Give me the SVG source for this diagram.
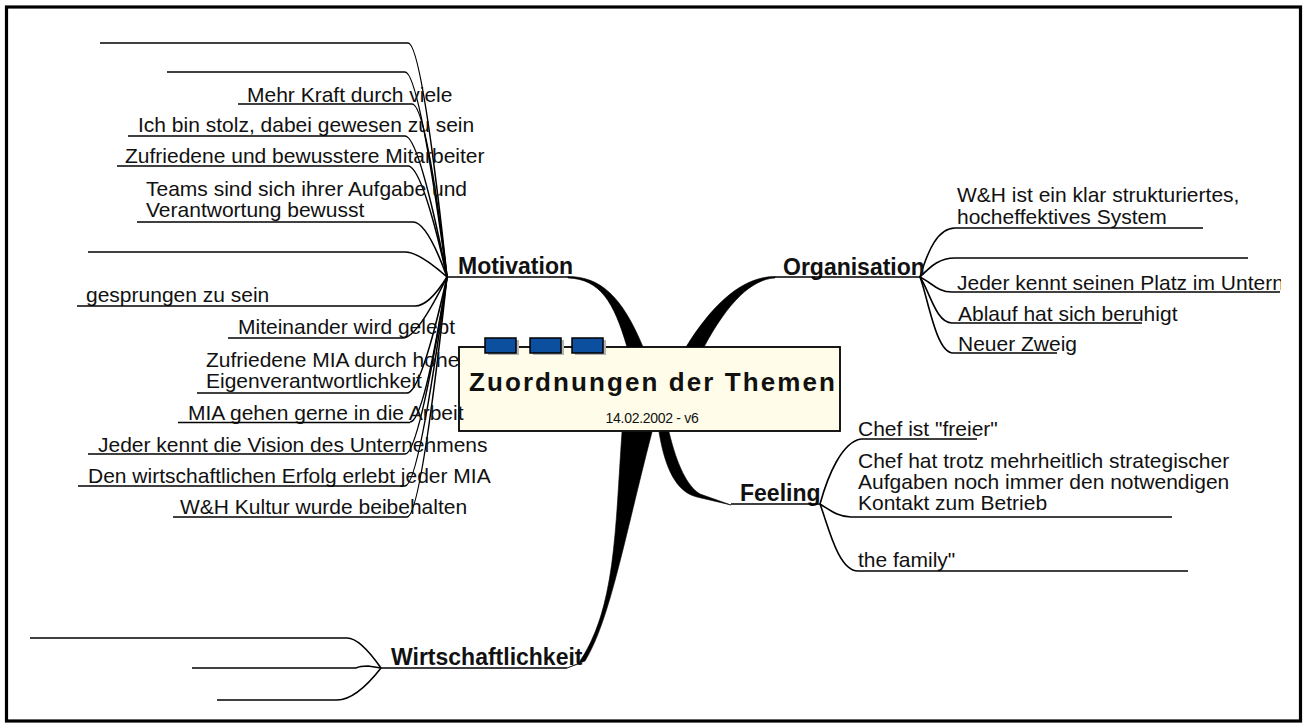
<svg xmlns="http://www.w3.org/2000/svg" width="1307" height="726" viewBox="0 0 1307 726">
  <style>
    .t { font-family: "Liberation Sans", Arial, sans-serif; font-size: 21px; fill: #111; }
    .mt { font-family: "Liberation Sans", Arial, sans-serif; font-size: 23px; font-weight: bold; fill: #111; }
    .ul { stroke: #000; stroke-width: 1.6; fill: none; }
    .cn { stroke: #000; stroke-width: 1.6; fill: none; }
    .br { fill: #000; stroke: #000; stroke-width: 0.6; }
    .blk { fill: #0b4f9e; stroke: #000; stroke-width: 1.5; }
    .shd { fill: #b4b4b4; }
  </style>
  <defs>
    <clipPath id="viewClip">
      <rect x="0" y="0" width="1281" height="726"/>
    </clipPath>
  </defs>

  <rect x="0" y="0" width="1307" height="726" fill="#fff"/>
  <!-- page frame -->
  <rect x="6.5" y="7" width="1294" height="714" fill="none" stroke="#000" stroke-width="3.2"/>

  <!-- connectors: tapered main branches and thin sub-branches -->
  <g id="connectors">
    <!-- main branches -->
    <path class="br" d="M568,276.5 C600,276.5 622,296 643,347 L627,347 C614,302 600,279 568,278 Z"/>
    <path class="br" d="M775,276.5 C745,276.5 715,300 686,347 L704,347 C728,302 752,279 775,278 Z"/>
    <path class="br" d="M659,432 C665,468 676,492 697,497 L731,505 L700,494 C687,486 677,465 669,432 Z"/>
    <path class="br" d="M622,432 C615,530 616,610 578,664 L567,668 L585,661 C610,620 624,540 652,432 Z"/>

    <!-- Motivation sub-branches -->
    <path class="cn" d="M408,43 Q422,43 447,277"/>
    <path class="cn" d="M405,72 Q419,72 447,277"/>
    <path class="cn" d="M412,104 Q426,104 447,277"/>
    <path class="cn" d="M405,136 Q419,136 447,277"/>
    <path class="cn" d="M408,166 Q422,166 447,277"/>
    <path class="cn" d="M413,222 Q427,222 447,277"/>
    <path class="cn" d="M405,252 Q419,252 447,277"/>
    <path class="cn" d="M415,306 Q429,306 447,277"/>
    <path class="cn" d="M403,338 Q417,338 447,277"/>
    <path class="cn" d="M407,393 Q421,393 447,277"/>
    <path class="cn" d="M410,422 Q424,422 447,277"/>
    <path class="cn" d="M405,454 Q419,454 447,277"/>
    <path class="cn" d="M405,486 Q419,486 447,277"/>
    <path class="cn" d="M407,517 Q421,517 447,277"/>

    <!-- Organisation sub-branches -->
    <path class="cn" d="M920,277 C928,250 938,228 955,228"/>
    <path class="cn" d="M920,277 C932,265 940,258 955,258"/>
    <path class="cn" d="M920,277 C932,283 938,292 952,292"/>
    <path class="cn" d="M920,277 C930,292 936,323 952,323"/>
    <path class="cn" d="M920,277 C928,298 936,353 953,353"/>

    <!-- Feeling sub-branches -->
    <path class="cn" d="M820,504 C828,475 842,442 861,439"/>
    <path class="cn" d="M820,504 C830,510 838,517 851,517"/>
    <path class="cn" d="M820,504 C828,525 838,571 858,571"/>

    <!-- Wirtschaftlichkeit sub-branches -->
    <path class="cn" d="M347,638 Q360,638 381,668"/>
    <path class="cn" d="M356,668 Q360,666 368,666 L381,668"/>
    <path class="cn" d="M337,700 Q356,700 381,668"/>
  </g>

  <!-- central topic -->
  <g id="central">
    <rect x="459" y="347" width="381" height="84" fill="#fffde9" stroke="#000" stroke-width="1.8"/>
    <rect x="488" y="340" width="31" height="15" class="shd"/>
    <rect x="485" y="338" width="31" height="15" class="blk"/>
    <rect x="533" y="340" width="31" height="15" class="shd"/>
    <rect x="530" y="338" width="31" height="15" class="blk"/>
    <rect x="575" y="340" width="31" height="15" class="shd"/>
    <rect x="572" y="338" width="31" height="15" class="blk"/>
    <text x="469" y="391" font-family="'Liberation Sans', Arial, sans-serif" font-size="26" font-weight="bold" fill="#111" textLength="366" lengthAdjust="spacing">Zuordnungen der Themen</text>
    <text x="652" y="423" font-family="'Liberation Sans', Arial, sans-serif" font-size="14" fill="#111" text-anchor="middle" letter-spacing="-0.3">14.02.2002 - v6</text>
  </g>

  <!-- main topics -->
  <g id="motivation">
    <text class="mt" x="458" y="274">Motivation</text>
    <line class="ul" x1="447" y1="277" x2="568" y2="277"/>
  </g>
  <g id="organisation">
    <text class="mt" x="783" y="275">Organisation</text>
    <line class="ul" x1="775" y1="277" x2="920" y2="277"/>
  </g>
  <g id="feeling">
    <text class="mt" x="740" y="501">Feeling</text>
    <line class="ul" x1="731" y1="504" x2="820" y2="504"/>
  </g>
  <g id="wirtschaftlichkeit">
    <text class="mt" x="391" y="665">Wirtschaftlichkeit</text>
    <line class="ul" x1="381" y1="668" x2="567" y2="668"/>
  </g>

  <!-- Motivation subtopics -->
  <g id="mot-1"><line class="ul" x1="100" y1="43" x2="408" y2="43"/></g>
  <g id="mot-2"><line class="ul" x1="167" y1="72" x2="405" y2="72"/></g>
  <g id="mot-3">
    <text class="t" x="247" y="101.5">Mehr Kraft durch viele</text>
    <line class="ul" x1="238" y1="104" x2="412" y2="104"/>
  </g>
  <g id="mot-4">
    <text class="t" x="138" y="132">Ich bin stolz, dabei gewesen zu sein</text>
    <line class="ul" x1="128" y1="136" x2="405" y2="136"/>
  </g>
  <g id="mot-5">
    <text class="t" x="125" y="163">Zufriedene und bewusstere Mitarbeiter</text>
    <line class="ul" x1="117" y1="166" x2="408" y2="166"/>
  </g>
  <g id="mot-6">
    <text class="t" x="146" y="195.5">Teams sind sich ihrer Aufgabe und</text>
    <text class="t" x="146" y="216.5">Verantwortung bewusst</text>
    <line class="ul" x1="137" y1="222" x2="413" y2="222"/>
  </g>
  <g id="mot-7"><line class="ul" x1="88" y1="252" x2="405" y2="252"/></g>
  <g id="mot-8">
    <text class="t" x="86" y="302">gesprungen zu sein</text>
    <line class="ul" x1="77" y1="306" x2="415" y2="306"/>
  </g>
  <g id="mot-9">
    <text class="t" x="238" y="334">Miteinander wird gelebt</text>
    <line class="ul" x1="228" y1="338" x2="403" y2="338"/>
  </g>
  <g id="mot-10">
    <text class="t" x="206" y="367">Zufriedene MIA durch hohe</text>
    <text class="t" x="206" y="388">Eigenverantwortlichkeit</text>
    <line class="ul" x1="197" y1="393" x2="407" y2="393"/>
  </g>
  <g id="mot-11">
    <text class="t" x="188" y="420">MIA gehen gerne in die Arbeit</text>
    <line class="ul" x1="178" y1="422.5" x2="410" y2="422.5"/>
  </g>
  <g id="mot-12">
    <text class="t" x="98" y="452">Jeder kennt die Vision des Unternehmens</text>
    <line class="ul" x1="88" y1="454" x2="405" y2="454"/>
  </g>
  <g id="mot-13">
    <text class="t" x="88" y="483">Den wirtschaftlichen Erfolg erlebt jeder MIA</text>
    <line class="ul" x1="78" y1="486" x2="405" y2="486"/>
  </g>
  <g id="mot-14">
    <text class="t" x="180" y="514">W&amp;H Kultur wurde beibehalten</text>
    <line class="ul" x1="173" y1="517" x2="407" y2="517"/>
  </g>

  <!-- Organisation subtopics -->
  <g id="org-1">
    <text class="t" x="957" y="202">W&amp;H ist ein klar strukturiertes,</text>
    <text class="t" x="957" y="224">hocheffektives System</text>
    <line class="ul" x1="955" y1="228" x2="1203" y2="228"/>
  </g>
  <g id="org-2"><line class="ul" x1="955" y1="258" x2="1248" y2="258"/></g>
  <g id="org-3" clip-path="url(#viewClip)">
    <text class="t" x="957" y="290">Jeder kennt seinen Platz im Untern</text>
    <line class="ul" x1="952" y1="292" x2="1280" y2="292"/>
  </g>
  <g id="org-4">
    <text class="t" x="958" y="321">Ablauf hat sich beruhigt</text>
    <line class="ul" x1="952" y1="323" x2="1142" y2="323"/>
  </g>
  <g id="org-5">
    <text class="t" x="958" y="351">Neuer Zweig</text>
    <line class="ul" x1="953" y1="353" x2="1057" y2="353"/>
  </g>

  <!-- Feeling subtopics -->
  <g id="feel-1">
    <text class="t" x="858" y="436">Chef ist "freier"</text>
    <line class="ul" x1="861" y1="439" x2="977" y2="439"/>
  </g>
  <g id="feel-2">
    <text class="t" x="858" y="468">Chef hat trotz mehrheitlich strategischer</text>
    <text class="t" x="858" y="489">Aufgaben noch immer den notwendigen</text>
    <text class="t" x="858" y="510">Kontakt zum Betrieb</text>
    <line class="ul" x1="851" y1="517" x2="1172" y2="517"/>
  </g>
  <g id="feel-3">
    <text class="t" x="858" y="567">the family"</text>
    <line class="ul" x1="858" y1="571" x2="1188" y2="571"/>
  </g>

  <!-- Wirtschaftlichkeit subtopics -->
  <g id="wirt-1"><line class="ul" x1="30" y1="638" x2="347" y2="638"/></g>
  <g id="wirt-2"><line class="ul" x1="192" y1="668" x2="356" y2="668"/></g>
  <g id="wirt-3"><line class="ul" x1="217" y1="700" x2="337" y2="700"/></g>
</svg>
